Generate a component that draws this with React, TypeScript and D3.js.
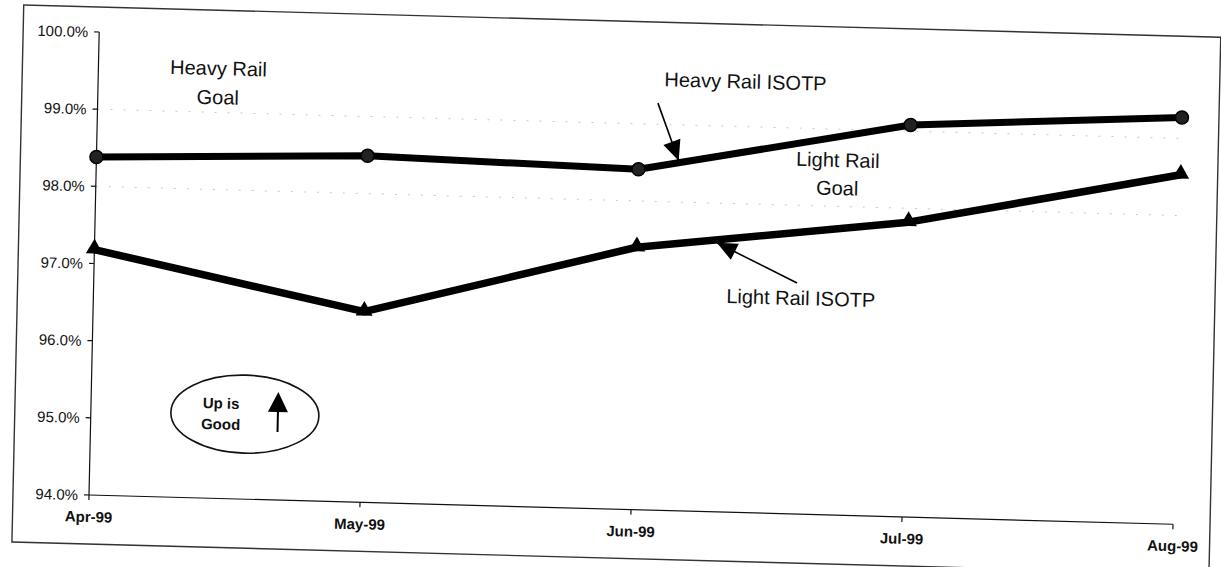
import React from "react";
import * as d3 from "d3";

const months = ["Apr-99", "May-99", "Jun-99", "Jul-99", "Aug-99"];
const heavyRail = [98.38, 98.49, 98.41, 99.08, 99.27];
const lightRail = [97.18, 96.47, 97.4, 97.82, 98.53];
const yTicks = [94, 95, 96, 97, 98, 99, 100];
const heavyGoal = 99.0;
const lightGoal = 98.0;

const W = 1221;
const H = 567;
const FONT = "'Liberation Sans', Arial, Helvetica, sans-serif";

function arrowHead(x1: number, y1: number, x2: number, y2: number, len: number, half: number) {
  const dx = x2 - x1;
  const dy = y2 - y1;
  const L = Math.hypot(dx, dy);
  const ux = dx / L;
  const uy = dy / L;
  const bx = x2 - ux * len;
  const by = y2 - uy * len;
  const px = -uy * half;
  const py = ux * half;
  return `M${x2},${y2}L${bx + px},${by + py}L${bx - px},${by - py}Z`;
}

export default function App() {
  const x = d3.scalePoint<string>().domain(months).range([89, 1173]).padding(0);
  const y = d3.scaleLinear().domain([94, 100]).range([495, 32]);
  const x0 = x(months[0])!;
  const xN = x(months[months.length - 1])!;

  const line = d3
    .line<number>()
    .x((_, i) => x(months[i])!)
    .y((d) => y(d));

  const tri = d3.symbol().type(d3.symbolTriangle).size(125)()!;

  const hA = { x1: 649, y1: 88, x2: 671, y2: 145 };
  const lA = { x1: 792, y1: 264, x2: 711, y2: 226 };

  return (
    <svg
      width={W}
      height={H}
      viewBox={`0 0 ${W} ${H}`}
      style={{ position: "absolute", left: 0, top: 0, display: "block", background: "#fff" }}
      fontFamily={FONT}
    >
      <rect x={0} y={0} width={W} height={H} fill="#fff" />
      <g transform={`translate(89,495) matrix(1,0.027,-0.022,1,0,0) translate(-89,-495)`}>
        <rect x={13} y={7} width={1197} height={537} fill="none" stroke="#333" strokeWidth={1.4} />

        <line x1={x0} x2={xN} y1={y(heavyGoal)} y2={y(heavyGoal)} stroke="#c8c8c8" strokeWidth={1} strokeDasharray="2 11" />
        <line x1={x0} x2={xN} y1={y(lightGoal)} y2={y(lightGoal)} stroke="#c8c8c8" strokeWidth={1} strokeDasharray="2 11" />

        <line x1={x0} x2={x0} y1={y(100)} y2={y(94)} stroke="#111" strokeWidth={1.2} />
        {yTicks.map((t) => (
          <g key={t}>
            <line x1={x0 - 5} x2={x0} y1={y(t)} y2={y(t)} stroke="#111" strokeWidth={1.2} />
            <text x={x0 - 11} y={y(t)} dy="0.36em" textAnchor="end" fontSize={15} fill="#111">
              {d3.format(".1f")(t) + "%"}
            </text>
          </g>
        ))}

        <line x1={x0} x2={xN} y1={y(94)} y2={y(94)} stroke="#111" strokeWidth={1.2} />
        {months.map((m) => (
          <g key={m}>
            <line x1={x(m)!} x2={x(m)!} y1={y(94)} y2={y(94) + 5} stroke="#111" strokeWidth={1.2} />
            <text x={x(m)!} y={y(94) + 27} textAnchor="middle" fontSize={15} fontWeight="bold" fill="#111">
              {m}
            </text>
          </g>
        ))}

        <path d={line(heavyRail)!} fill="none" stroke="#000" strokeWidth={7} strokeLinejoin="round" />
        <path d={line(lightRail)!} fill="none" stroke="#000" strokeWidth={7.5} strokeLinejoin="round" />

        {heavyRail.map((v, i) => (
          <circle key={"h" + i} cx={x(months[i])!} cy={y(v)} r={6.5} fill="#222" stroke="#000" strokeWidth={1.5} />
        ))}
        {lightRail.map((v, i) => (
          <path key={"l" + i} d={tri} transform={`translate(${x(months[i])!},${y(v) - 1})`} fill="#000" />
        ))}

        <g fontSize={20} fill="#111" textAnchor="middle">
          <text x={209} y={72}>Heavy Rail</text>
          <text x={209} y={101}>Goal</text>
          <text x={736} y={71}>Heavy Rail ISOTP</text>
          <text x={830} y={147}>Light Rail</text>
          <text x={830} y={175}>Goal</text>
          <text x={796} y={286}>Light Rail ISOTP</text>
        </g>
        <line x1={hA.x1} y1={hA.y1} x2={hA.x2} y2={hA.y2} stroke="#000" strokeWidth={1.6} />
        <path d={arrowHead(hA.x1, hA.y1, hA.x2, hA.y2, 20, 9)} fill="#000" />
        <line x1={lA.x1} y1={lA.y1} x2={lA.x2} y2={lA.y2} stroke="#000" strokeWidth={1.6} />
        <path d={arrowHead(lA.x1, lA.y1, lA.x2, lA.y2, 20, 9)} fill="#000" />

        <ellipse cx={243} cy={410} rx={74} ry={39} fill="none" stroke="#111" strokeWidth={1.6} />
        <g fontSize={15} fontWeight="bold" fill="#111" textAnchor="middle">
          <text x={219} y={405}>Up is</text>
          <text x={219} y={426}>Good</text>
        </g>
        <path d="M276,387L266,407L286,407Z" fill="#000" />
        <line x1={276} x2={276} y1={405} y2={427} stroke="#000" strokeWidth={2} />
      </g>
    </svg>
  );
}
